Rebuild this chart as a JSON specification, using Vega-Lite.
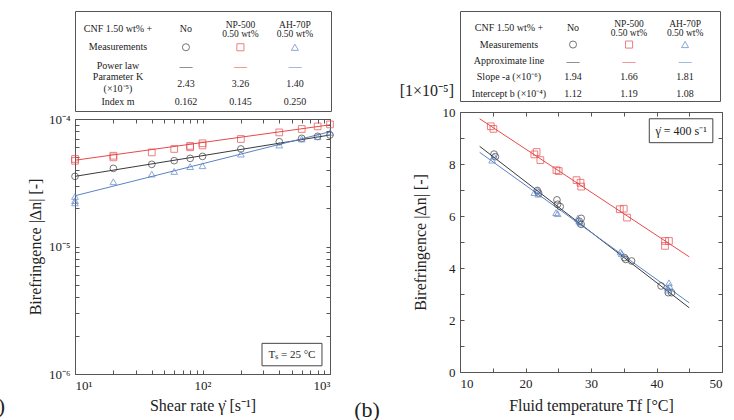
{
  "$schema": "https://vega.github.io/schema/vega-lite/v6.json",
  "padding": {"left": -20, "top": 10, "right": 0, "bottom": 0},
  "background": "white",
  "config": {
    "view": {"stroke": "#555", "strokeWidth": 1},
    "font": "Liberation Serif",
    "axis": {"domain": false, "grid": false, "tickSize": -4, "tickColor": "#555", "labelPadding": 9, "labelFont": "Liberation Serif", "labelFontSize": 13, "labelColor": "#222", "titleFont": "Liberation Serif", "titleFontSize": 16, "titleFontWeight": "normal", "titleColor": "#222"},
    "text": {"font": "Liberation Serif", "color": "#222"}
  },
  "datasets": {
    "tableA": [
      {"row": "header", "col": "label", "text": "CNF 1.50 wt% +"},
      {"row": "header", "col": "No", "text": "No"},
      {"row": "header", "col": "NP-500", "text": "NP-500\n0.50 wt%"},
      {"row": "header", "col": "AH-70P", "text": "AH-70P\n0.50 wt%"},
      {"row": "meas", "col": "label", "text": "Measurements"},
      {"row": "line", "col": "label", "text": "Power law"},
      {"row": "param", "col": "label", "text": "Parameter K\n(×10⁻⁵)"},
      {"row": "param", "col": "No", "text": "2.43"},
      {"row": "param", "col": "NP-500", "text": "3.26"},
      {"row": "param", "col": "AH-70P", "text": "1.40"},
      {"row": "index", "col": "label", "text": "Index m"},
      {"row": "index", "col": "No", "text": "0.162"},
      {"row": "index", "col": "NP-500", "text": "0.145"},
      {"row": "index", "col": "AH-70P", "text": "0.250"}
    ],
    "tableB": [
      {"row": "header", "col": "label", "text": "CNF 1.50 wt% +"},
      {"row": "header", "col": "No", "text": "No"},
      {"row": "header", "col": "NP-500", "text": "NP-500\n0.50 wt%"},
      {"row": "header", "col": "AH-70P", "text": "AH-70P\n0.50 wt%"},
      {"row": "meas", "col": "label", "text": "Measurements"},
      {"row": "line", "col": "label", "text": "Approximate line"},
      {"row": "slope", "col": "label", "text": "Slope -a (×10⁻⁶)"},
      {"row": "slope", "col": "No", "text": "1.94"},
      {"row": "slope", "col": "NP-500", "text": "1.66"},
      {"row": "slope", "col": "AH-70P", "text": "1.81"},
      {"row": "intercept", "col": "label", "text": "Intercept b (×10⁻⁴)"},
      {"row": "intercept", "col": "No", "text": "1.12"},
      {"row": "intercept", "col": "NP-500", "text": "1.19"},
      {"row": "intercept", "col": "AH-70P", "text": "1.08"}
    ],
    "legendSym": [
      {"series": "No"}, {"series": "NP-500"}, {"series": "AH-70P"}
    ],
    "fitA": [
      {"series": "No", "shear": 10, "bir": 3.55e-5},
      {"series": "No", "shear": 1000, "bir": 7.49e-5},
      {"series": "NP-500", "shear": 10, "bir": 4.75e-5},
      {"series": "NP-500", "shear": 1000, "bir": 9.0e-5},
      {"series": "AH-70P", "shear": 10, "bir": 2.5e-5},
      {"series": "AH-70P", "shear": 1000, "bir": 7.95e-5}
    ],
    "measA": [
      {"series": "No", "shear": 10, "bir": 3.55e-5},
      {"series": "No", "shear": 20, "bir": 4.10e-5},
      {"series": "No", "shear": 40, "bir": 4.41e-5},
      {"series": "No", "shear": 60, "bir": 4.71e-5},
      {"series": "No", "shear": 80, "bir": 4.91e-5},
      {"series": "No", "shear": 100, "bir": 5.09e-5},
      {"series": "No", "shear": 200, "bir": 5.82e-5},
      {"series": "No", "shear": 400, "bir": 6.64e-5},
      {"series": "No", "shear": 600, "bir": 7.05e-5},
      {"series": "No", "shear": 800, "bir": 7.31e-5},
      {"series": "No", "shear": 1000, "bir": 7.49e-5},
      {"series": "NP-500", "shear": 10, "bir": 4.86e-5},
      {"series": "NP-500", "shear": 10, "bir": 4.70e-5},
      {"series": "NP-500", "shear": 20, "bir": 5.00e-5},
      {"series": "NP-500", "shear": 20, "bir": 5.15e-5},
      {"series": "NP-500", "shear": 40, "bir": 5.47e-5},
      {"series": "NP-500", "shear": 60, "bir": 5.82e-5},
      {"series": "NP-500", "shear": 80, "bir": 6.00e-5},
      {"series": "NP-500", "shear": 80, "bir": 6.15e-5},
      {"series": "NP-500", "shear": 100, "bir": 6.20e-5},
      {"series": "NP-500", "shear": 100, "bir": 6.45e-5},
      {"series": "NP-500", "shear": 200, "bir": 6.97e-5},
      {"series": "NP-500", "shear": 400, "bir": 7.85e-5},
      {"series": "NP-500", "shear": 600, "bir": 8.35e-5},
      {"series": "NP-500", "shear": 800, "bir": 8.75e-5},
      {"series": "NP-500", "shear": 1000, "bir": 9.07e-5},
      {"series": "AH-70P", "shear": 10, "bir": 2.47e-5},
      {"series": "AH-70P", "shear": 10, "bir": 2.29e-5},
      {"series": "AH-70P", "shear": 10, "bir": 2.20e-5},
      {"series": "AH-70P", "shear": 20, "bir": 3.22e-5},
      {"series": "AH-70P", "shear": 40, "bir": 3.70e-5},
      {"series": "AH-70P", "shear": 60, "bir": 3.88e-5},
      {"series": "AH-70P", "shear": 80, "bir": 4.23e-5},
      {"series": "AH-70P", "shear": 100, "bir": 4.30e-5},
      {"series": "AH-70P", "shear": 200, "bir": 5.31e-5},
      {"series": "AH-70P", "shear": 400, "bir": 6.25e-5},
      {"series": "AH-70P", "shear": 600, "bir": 6.97e-5},
      {"series": "AH-70P", "shear": 800, "bir": 7.26e-5},
      {"series": "AH-70P", "shear": 1000, "bir": 7.85e-5}
    ],
    "fitB": [
      {"series": "No", "temp": 13, "bir": 8.68},
      {"series": "No", "temp": 45, "bir": 2.47},
      {"series": "NP-500", "temp": 13, "bir": 9.74},
      {"series": "NP-500", "temp": 45, "bir": 4.43},
      {"series": "AH-70P", "temp": 13, "bir": 8.45},
      {"series": "AH-70P", "temp": 45, "bir": 2.66}
    ],
    "measB": [
      {"series": "NP-500", "temp": 14.7, "bir": 9.45},
      {"series": "NP-500", "temp": 15.1, "bir": 9.35},
      {"series": "NP-500", "temp": 21.35, "bir": 8.37},
      {"series": "NP-500", "temp": 21.7, "bir": 8.46},
      {"series": "NP-500", "temp": 22.27, "bir": 8.15},
      {"series": "NP-500", "temp": 24.72, "bir": 7.76},
      {"series": "NP-500", "temp": 25.07, "bir": 7.73},
      {"series": "NP-500", "temp": 27.79, "bir": 7.38},
      {"series": "NP-500", "temp": 28.4, "bir": 7.28},
      {"series": "NP-500", "temp": 28.5, "bir": 7.13},
      {"series": "NP-500", "temp": 34.4, "bir": 6.26},
      {"series": "NP-500", "temp": 35.0, "bir": 6.28},
      {"series": "NP-500", "temp": 35.5, "bir": 5.94},
      {"series": "NP-500", "temp": 41.3, "bir": 5.04},
      {"series": "NP-500", "temp": 41.3, "bir": 4.85},
      {"series": "NP-500", "temp": 41.9, "bir": 5.04},
      {"series": "No", "temp": 15.2, "bir": 8.38},
      {"series": "No", "temp": 15.4, "bir": 8.28},
      {"series": "No", "temp": 21.8, "bir": 6.98},
      {"series": "No", "temp": 22.0, "bir": 6.88},
      {"series": "No", "temp": 24.8, "bir": 6.62},
      {"series": "No", "temp": 24.9, "bir": 6.45},
      {"series": "No", "temp": 25.3, "bir": 6.36},
      {"series": "No", "temp": 28.5, "bir": 5.91},
      {"series": "No", "temp": 28.2, "bir": 5.80},
      {"series": "No", "temp": 28.5, "bir": 5.68},
      {"series": "No", "temp": 35.1, "bir": 4.40},
      {"series": "No", "temp": 35.3, "bir": 4.33},
      {"series": "No", "temp": 36.2, "bir": 4.27},
      {"series": "No", "temp": 40.7, "bir": 3.31},
      {"series": "No", "temp": 41.8, "bir": 3.05},
      {"series": "No", "temp": 42.3, "bir": 3.05},
      {"series": "AH-70P", "temp": 14.9, "bir": 8.15},
      {"series": "AH-70P", "temp": 15.2, "bir": 8.30},
      {"series": "AH-70P", "temp": 21.35, "bir": 6.90},
      {"series": "AH-70P", "temp": 21.85, "bir": 6.99},
      {"series": "AH-70P", "temp": 21.95, "bir": 6.84},
      {"series": "AH-70P", "temp": 24.67, "bir": 6.13},
      {"series": "AH-70P", "temp": 24.9, "bir": 6.09},
      {"series": "AH-70P", "temp": 28.0, "bir": 5.91},
      {"series": "AH-70P", "temp": 28.2, "bir": 5.80},
      {"series": "AH-70P", "temp": 28.4, "bir": 5.73},
      {"series": "AH-70P", "temp": 34.5, "bir": 4.62},
      {"series": "AH-70P", "temp": 34.7, "bir": 4.55},
      {"series": "AH-70P", "temp": 41.9, "bir": 3.43},
      {"series": "AH-70P", "temp": 41.7, "bir": 3.24},
      {"series": "AH-70P", "temp": 41.8, "bir": 3.15},
      {"series": "AH-70P", "temp": 42.0, "bir": 3.30}
    ]
  },
  "spacing": 17,
  "hconcat": [
    {
      "bounds": "flush",
      "spacing": 8,
      "resolve": {"scale": {"x": "independent", "y": "independent"}},
      "vconcat": [
        {
          "width": 256,
          "height": 100,
          "encoding": {
            "x": {"field": "col", "type": "nominal", "scale": {"type": "point", "domain": ["label", "No", "NP-500", "AH-70P"], "padding": 0.85, "align": 0.61}, "axis": null},
            "y": {"field": "row", "type": "nominal", "scale": {"type": "point", "domain": ["header", "meas", "line", "param", "index"], "padding": 0.74, "align": 0.667}, "axis": null}
          },
          "layer": [
            {
              "data": {"name": "tableA"},
              "transform": [{"filter": "datum.col === 'label' && indexof(datum.text, '\\n') < 0"}],
              "mark": {"type": "text", "dx": -13.5, "fontSize": 10},
              "encoding": {"text": {"field": "text"}}
            },
            {
              "data": {"name": "tableA"},
              "transform": [{"filter": "datum.col === 'label' && indexof(datum.text, '\\n') >= 0"}],
              "mark": {"type": "text", "dx": -13.5, "dy": -7, "fontSize": 10, "lineBreak": "\n", "lineHeight": 12},
              "encoding": {"text": {"field": "text"}}
            },
            {
              "data": {"name": "tableA"},
              "transform": [{"filter": "datum.col !== 'label' && indexof(datum.text, '\\n') < 0"}],
              "mark": {"type": "text", "fontSize": 10},
              "encoding": {"text": {"field": "text"}}
            },
            {
              "data": {"name": "tableA"},
              "transform": [{"filter": "datum.col !== 'label' && indexof(datum.text, '\\n') >= 0"}],
              "mark": {"type": "text", "dy": -4, "fontSize": 9.5, "lineBreak": "\n", "lineHeight": 9},
              "encoding": {"text": {"field": "text"}}
            },
            {
              "data": {"name": "legendSym"},
              "mark": {"type": "point", "filled": false, "size": 50, "strokeWidth": 1},
              "encoding": {
                "x": {"field": "series", "type": "nominal", "axis": null},
                "y": {"datum": "meas", "axis": null},
                "color": {"field": "series", "type": "nominal", "scale": {"domain": ["No", "NP-500", "AH-70P"], "range": ["#3a3a3a", "#e8484a", "#5b83c4"]}, "legend": null},
                "shape": {"field": "series", "type": "nominal", "scale": {"domain": ["No", "NP-500", "AH-70P"], "range": ["circle", "square", "triangle-up"]}, "legend": null}
              }
            },
            {
              "data": {"name": "legendSym"},
              "mark": {"type": "text", "text": "—", "fontSize": 13},
              "encoding": {
                "x": {"field": "series", "type": "nominal", "axis": null},
                "y": {"datum": "line", "axis": null},
                "color": {"field": "series", "type": "nominal", "legend": null}
              }
            }
          ]
        },
        {
          "width": 255,
          "height": 255,
          "layer": [
            {
              "data": {"name": "fitA"},
              "mark": {"type": "line", "strokeWidth": 1},
              "encoding": {
                "x": {"field": "shear", "type": "quantitative", "scale": {"type": "log", "domain": [10, 1000], "nice": false}, "axis": {"orient": "top", "labels": false, "title": null, "values": [10, 20, 30, 40, 50, 60, 70, 80, 90, 100, 200, 300, 400, 500, 600, 700, 800, 900, 1000]}},
                "y": {"field": "bir", "type": "quantitative", "scale": {"type": "log", "domain": [1e-6, 1e-4], "nice": false}, "axis": {"orient": "right", "labels": false, "title": null, "values": [1e-6, 2e-6, 3e-6, 4e-6, 5e-6, 6e-6, 7e-6, 8e-6, 9e-6, 1e-5, 2e-5, 3e-5, 4e-5, 5e-5, 6e-5, 7e-5, 8e-5, 9e-5, 1e-4]}},
                "color": {"field": "series", "type": "nominal", "legend": null},
                "detail": {"field": "series"}
              }
            },
            {
              "data": {"name": "measA"},
              "mark": {"type": "point", "filled": false, "size": 45, "strokeWidth": 1},
              "encoding": {
                "x": {"field": "shear", "type": "quantitative", "axis": {"orient": "bottom", "title": "Shear rate γ̇ [s⁻¹]", "titlePadding": 5, "values": [10, 20, 30, 40, 50, 60, 70, 80, 90, 100, 200, 300, 400, 500, 600, 700, 800, 900, 1000], "labelExpr": "datum.value == 10 ? '10¹' : datum.value == 100 ? '10²' : datum.value == 1000 ? '10³' : ''"}},
                "y": {"field": "bir", "type": "quantitative", "axis": {"orient": "left", "title": "Birefringence |Δn| [-]", "titlePadding": 5, "values": [1e-6, 2e-6, 3e-6, 4e-6, 5e-6, 6e-6, 7e-6, 8e-6, 9e-6, 1e-5, 2e-5, 3e-5, 4e-5, 5e-5, 6e-5, 7e-5, 8e-5, 9e-5, 1e-4], "labelExpr": "datum.value == 0.0001 ? '10⁻⁴' : datum.value == 0.00001 ? '10⁻⁵' : datum.value == 0.000001 ? '10⁻⁶' : ''"}},
                "color": {"field": "series", "type": "nominal", "legend": null},
                "shape": {"field": "series", "type": "nominal", "legend": null}
              }
            },
            {
              "data": {"values": [{}]},
              "mark": {"type": "rect", "fill": "white", "stroke": "#444", "strokeWidth": 1},
              "encoding": {
                "x": {"datum": 293, "type": "quantitative", "axis": null},
                "x2": {"datum": 865},
                "y": {"datum": 1.74e-6, "type": "quantitative", "axis": null},
                "y2": {"datum": 1.16e-6}
              }
            },
            {
              "data": {"values": [{}]},
              "mark": {"type": "text", "text": "Tₛ = 25 °C", "fontSize": 11},
              "encoding": {
                "x": {"datum": 503, "type": "quantitative", "axis": null},
                "y": {"datum": 1.42e-6, "type": "quantitative", "axis": null}
              }
            },
            {
              "data": {"values": [{}]},
              "mark": {"type": "text", "text": "(a)", "fontSize": 22, "align": "right", "dx": -70, "dy": 32},
              "encoding": {
                "x": {"datum": 10, "type": "quantitative", "axis": null},
                "y": {"datum": 1e-6, "type": "quantitative", "axis": null}
              }
            }
          ],
          "resolve": {"axis": {"x": "independent", "y": "independent"}}
        }
      ]
    },
    {
      "bounds": "flush",
      "spacing": 11,
      "resolve": {"scale": {"x": "independent", "y": "independent"}},
      "vconcat": [
        {
          "width": 260,
          "height": 90,
          "encoding": {
            "x": {"field": "col", "type": "nominal", "scale": {"type": "point", "domain": ["label", "No", "NP-500", "AH-70P"], "padding": 0.82, "align": 0.62}, "axis": null},
            "y": {"field": "row", "type": "nominal", "scale": {"type": "point", "domain": ["header", "meas", "line", "slope", "intercept"], "padding": 0.75, "align": 0.7}, "axis": null}
          },
          "layer": [
            {
              "data": {"name": "tableB"},
              "transform": [{"filter": "datum.col === 'label'"}],
              "mark": {"type": "text", "dx": -8, "fontSize": 10},
              "encoding": {"text": {"field": "text"}}
            },
            {
              "data": {"name": "tableB"},
              "transform": [{"filter": "datum.col !== 'label' && indexof(datum.text, '\\n') < 0"}],
              "mark": {"type": "text", "fontSize": 10},
              "encoding": {"text": {"field": "text"}}
            },
            {
              "data": {"name": "tableB"},
              "transform": [{"filter": "datum.col !== 'label' && indexof(datum.text, '\\n') >= 0"}],
              "mark": {"type": "text", "dy": -4, "fontSize": 9.5, "lineBreak": "\n", "lineHeight": 9},
              "encoding": {"text": {"field": "text"}}
            },
            {
              "data": {"name": "legendSym"},
              "mark": {"type": "point", "filled": false, "size": 50, "strokeWidth": 1},
              "encoding": {
                "x": {"field": "series", "type": "nominal", "axis": null},
                "y": {"datum": "meas", "axis": null},
                "color": {"field": "series", "type": "nominal", "legend": null},
                "shape": {"field": "series", "type": "nominal", "legend": null}
              }
            },
            {
              "data": {"name": "legendSym"},
              "mark": {"type": "text", "text": "—", "fontSize": 13},
              "encoding": {
                "x": {"field": "series", "type": "nominal", "axis": null},
                "y": {"datum": "line", "axis": null},
                "color": {"field": "series", "type": "nominal", "legend": null}
              }
            }
          ]
        },
        {
          "width": 262,
          "height": 260,
          "layer": [
            {
              "data": {"name": "fitB"},
              "mark": {"type": "line", "strokeWidth": 1},
              "encoding": {
                "x": {"field": "temp", "type": "quantitative", "scale": {"domain": [10, 50], "nice": false, "zero": false}, "axis": {"orient": "top", "labels": false, "title": null, "values": [10, 15, 20, 25, 30, 35, 40, 45, 50]}},
                "y": {"field": "bir", "type": "quantitative", "scale": {"domain": [0, 10], "nice": false}, "axis": {"orient": "right", "labels": false, "title": null, "values": [0, 1, 2, 3, 4, 5, 6, 7, 8, 9, 10]}},
                "color": {"field": "series", "type": "nominal", "legend": null},
                "detail": {"field": "series"}
              }
            },
            {
              "data": {"name": "measB"},
              "mark": {"type": "point", "filled": false, "size": 45, "strokeWidth": 1},
              "encoding": {
                "x": {"field": "temp", "type": "quantitative", "axis": {"orient": "bottom", "title": "Fluid temperature Tf [°C]", "titlePadding": 7, "values": [10, 15, 20, 25, 30, 35, 40, 45, 50], "labelExpr": "datum.value % 10 == 0 ? datum.label : ''"}},
                "y": {"field": "bir", "type": "quantitative", "axis": {"orient": "left", "title": "Birefringence |Δn| [-]", "titlePadding": 14, "values": [0, 1, 2, 3, 4, 5, 6, 7, 8, 9, 10], "labelExpr": "datum.value % 2 == 0 ? datum.label : ''"}},
                "color": {"field": "series", "type": "nominal", "legend": null},
                "shape": {"field": "series", "type": "nominal", "legend": null}
              }
            },
            {
              "data": {"values": [{}]},
              "mark": {"type": "rect", "fill": "white", "stroke": "#444", "strokeWidth": 1},
              "encoding": {
                "x": {"datum": 38.9, "type": "quantitative", "axis": null},
                "x2": {"datum": 48.6},
                "y": {"datum": 9.74, "type": "quantitative", "axis": null},
                "y2": {"datum": 8.82}
              }
            },
            {
              "data": {"values": [{}]},
              "mark": {"type": "text", "text": "γ̇ = 400 s⁻¹", "fontSize": 12},
              "encoding": {
                "x": {"datum": 43.75, "type": "quantitative", "axis": null},
                "y": {"datum": 9.28, "type": "quantitative", "axis": null}
              }
            },
            {
              "data": {"values": [{}]},
              "mark": {"type": "text", "text": "[1×10⁻⁵]", "fontSize": 16, "align": "right", "baseline": "middle", "dx": -6, "dy": -21},
              "encoding": {
                "x": {"datum": 10, "type": "quantitative", "axis": null},
                "y": {"datum": 10, "type": "quantitative", "axis": null}
              }
            },
            {
              "data": {"values": [{}]},
              "mark": {"type": "text", "text": "(b)", "fontSize": 22, "baseline": "middle", "dx": -93, "dy": 38},
              "encoding": {
                "x": {"datum": 10, "type": "quantitative", "axis": null},
                "y": {"datum": 0, "type": "quantitative", "axis": null}
              }
            }
          ],
          "resolve": {"axis": {"x": "independent", "y": "independent"}}
        }
      ]
    }
  ]
}
